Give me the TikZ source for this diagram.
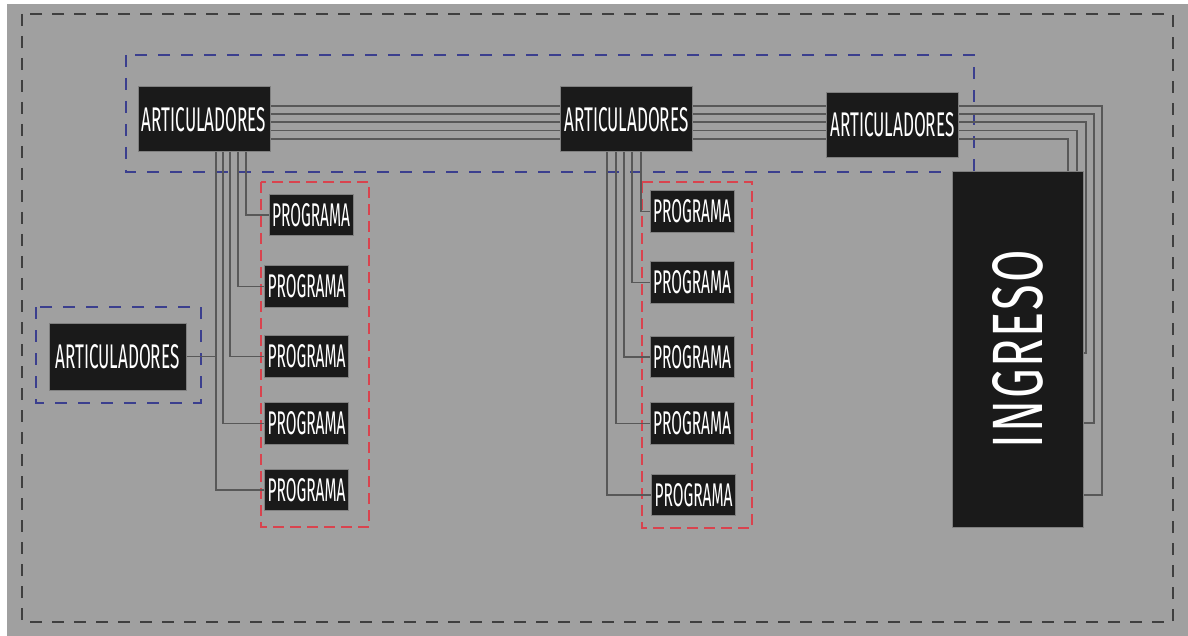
\documentclass[tikz,border=0pt]{standalone}
\usepackage{graphicx}
\usepackage{fontspec}
\setmainfont{Fira Sans}
\usepackage{tikz}

\definecolor{fondo}{HTML}{A0A0A0}
\definecolor{cajanegra}{HTML}{1A1A1A}
\definecolor{linea}{HTML}{585858}
\definecolor{azul}{HTML}{3B3F8E}
\definecolor{rojo}{HTML}{D9434E}
\definecolor{gris}{HTML}{3F3F3F}

\newcommand{\artlabel}{\resizebox{62pt}{12pt}{ARTICULADORES}}
\newcommand{\proglabel}{\resizebox{39pt}{11.5pt}{PROGRAMA}}

\begin{document}
\begin{tikzpicture}[x=0.5pt,y=-0.5pt,
    caja/.style={fill=cajanegra,draw=black!50,line width=0.5pt,inner sep=0pt,text=white},
    art/.style={caja,minimum width=66pt,minimum height=32.5pt},
    prog/.style={caja,minimum width=42pt,minimum height=20.75pt},
    bus/.style={draw=linea,line width=0.7pt},
    marco/.style={draw=gris,line width=1pt,dash pattern=on 6pt off 5pt},
    grupo/.style={draw=azul,line width=1pt,dash pattern=on 6pt off 5.5pt},
    lista/.style={draw=rojo,line width=1pt,dash pattern=on 5.5pt off 3pt}]
    \useasboundingbox (0,0) rectangle (1188,636);
    \fill[fondo] (7,4) rectangle (1188,636);
    % Marcos punteados
    \draw[marco] (22,14) rectangle (1173,622);
    \draw[grupo] (126,55) rectangle (974,172);
    \draw[grupo] (36,307) rectangle (201,403);
    \draw[lista] (261,182) rectangle (369,527);
    \draw[lista] (642,182) rectangle (752,528);
    % Articuladores e ingreso
    \node[art] (art1) at (204,119.5) {\artlabel};
    \node[art] (art2) at (626.5,119.5) {\artlabel};
    \node[art] (art3) at (892.5,125) {\artlabel};
    \node[art,minimum width=68.5pt,minimum height=33.5pt] (art4) at (117.5,356.5) {\artlabel};
    \node[caja,minimum width=65.5pt,minimum height=177.5pt] (ingreso) at (1017.5,349.5)
      {\rotatebox{90}{\resizebox{99pt}{25pt}{\addfontfeature{LetterSpace=4}INGRESO}}};
    % Programas
    \foreach \x/\y [count=\i] in {311/215,306.5/286.5,306.5/356.5,306.5/423.5,306.5/490}
      \node[prog] (p1\i) at (\x,\y) {\proglabel};
    \foreach \x/\y [count=\i] in {692/211.5,692/282.5,692/357,692/423.5,693.5/495}
      \node[prog] (p2\i) at (\x,\y) {\proglabel};
    % Lineas hacia los programas
    \foreach \x/\p in {246/p11,238/p12,230/p13,223/p14,216/p15}
      \draw[bus] (\x,0 |- art1.south) |- (\p.west);
    \foreach \x/\p in {641/p21,632/p22,624/p23,616/p24,607/p25}
      \draw[bus] (\x,0 |- art2.south) |- (\p.west);
    \draw[bus] (art4.east) -- (216,0 |- art4.east);
    % Haz de lineas entre articuladores
    \foreach \y in {106,114,122,130.5,139} {
      \draw[bus] (art1.east |- 0,\y) -- (art2.west |- 0,\y);
      \draw[bus] (art2.east |- 0,\y) -- (art3.west |- 0,\y);
    }
    % Haz de lineas hacia el ingreso
    \foreach \y/\x/\z in {106/1102/495,114/1094/423,122/1086/353}
      \draw[bus] (art3.east |- 0,\y) -| (\x,\z) -- (ingreso.east |- 0,\z);
    \foreach \y/\x in {130.5/1077,139/1068}
      \draw[bus] (art3.east |- 0,\y) -| (\x,0 |- ingreso.north);
\end{tikzpicture}
\end{document}
